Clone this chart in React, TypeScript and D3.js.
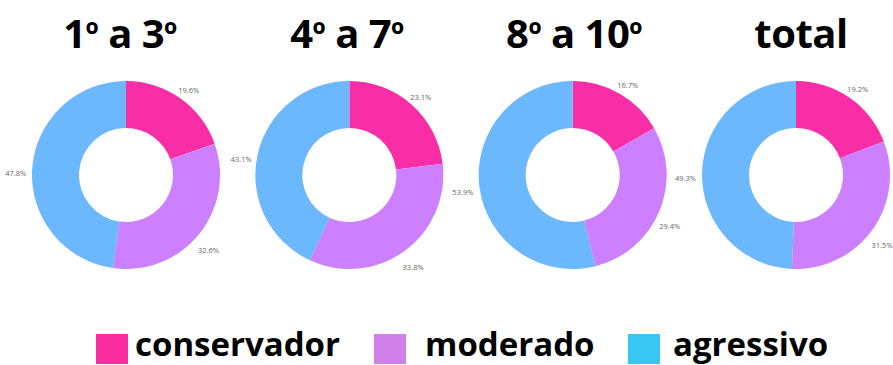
import React from "react";
import * as d3 from "d3";

// Investor profile shares by group
const groups = ["1º a 3º", "4º a 7º", "8º a 10º", "total"];
const profiles = ["conservador", "moderado", "agressivo"];
const conservador = [19.6, 23.1, 16.7, 19.2];
const moderado = [32.6, 33.8, 29.4, 31.5];
const agressivo = [47.8, 43.1, 53.9, 49.3];

const WIDTH = 893;
const HEIGHT = 365;

const sliceColors = ["#F92DA5", "#CC80FF", "#6CB8FF"];
const legendColors = ["#FA2CA0", "#D07FEB", "#36C8F0"];

const TITLE_SIZE = 40;
const ORD_SIZE = 34;
const ORD_RAISE = 2;

// Splits a title so the ordinal indicator can be drawn a little smaller
function titleSpans(title: string) {
  const parts = title.split("º");
  const spans: React.ReactNode[] = [];
  let raised = false;
  parts.forEach((p, i) => {
    if (p) {
      spans.push(
        <tspan key={`t${i}`} dy={raised ? ORD_RAISE : 0}>
          {p}
        </tspan>
      );
      raised = false;
    }
    if (i < parts.length - 1) {
      spans.push(
        <tspan key={`o${i}`} fontSize={ORD_SIZE} dy={raised ? 0 : -ORD_RAISE}>
          º
        </tspan>
      );
      raised = true;
    }
  });
  return spans;
}

export default function App() {
  const x = d3.scalePoint<string>().domain(groups).range([126, 796]);
  const titleX = d3.scalePoint<string>().domain(groups).range([120, 801]);
  const cy = 175;
  const outerR = 94;
  const innerR = 47;
  const labelR = 100;

  const pie = d3
    .pie<number>()
    .sort(null)
    .value((d) => d);
  const arc = d3.arc<d3.PieArcDatum<number>>().innerRadius(innerR).outerRadius(outerR);

  const legendSquareX = [96, 374, 628];
  const legendTextX = [135, 425, 673];

  return (
    <svg
      width={WIDTH}
      height={HEIGHT}
      style={{ position: "absolute", left: 0, top: 0, background: "#fff" }}
    >
      {groups.map((g, i) => {
        const values = [conservador[i], moderado[i], agressivo[i]];
        const arcs = pie(values);
        const cx = x(g)!;
        return (
          <g key={g}>
            <text
              x={titleX(g)!}
              y={48}
              textAnchor="middle"
              fontFamily="'Open Sans', sans-serif"
              fontWeight={700}
              fontSize={TITLE_SIZE}
              letterSpacing={-0.5}
              fill="#000"
            >
              {titleSpans(g)}
            </text>
            <g transform={`translate(${cx},${cy})`}>
              {arcs.map((a, j) => (
                <path key={j} d={arc(a) || ""} fill={sliceColors[j]} />
              ))}
              {arcs.map((a, j) => {
                const mid = (a.startAngle + a.endAngle) / 2;
                const px = Math.sin(mid) * labelR;
                const py = -Math.cos(mid) * labelR;
                const right = mid < Math.PI;
                const upper = mid < Math.PI / 2 || mid > (3 * Math.PI) / 2;
                const tx = right ? px + 5 : px;
                const ty = right ? (upper ? py - 3.5 : py + 11.5) : py + 5;
                return (
                  <text
                    key={`l${j}`}
                    x={tx}
                    y={ty}
                    textAnchor={right ? "middle" : "end"}
                    dominantBaseline="central"
                    fontFamily="'Open Sans', sans-serif"
                    fontSize={7.5}
                    fill="#666"
                  >
                    {`${values[j].toFixed(1)}%`}
                  </text>
                );
              })}
            </g>
          </g>
        );
      })}

      {profiles.map((p, i) => (
        <g key={p}>
          <rect
            x={legendSquareX[i]}
            y={334}
            width={32}
            height={30}
            fill={legendColors[i]}
          />
          <text
            x={legendTextX[i]}
            y={356}
            fontFamily="'Open Sans', sans-serif"
            fontWeight={700}
            fontSize={33}
            fill="#000"
          >
            {p}
          </text>
        </g>
      ))}
    </svg>
  );
}
